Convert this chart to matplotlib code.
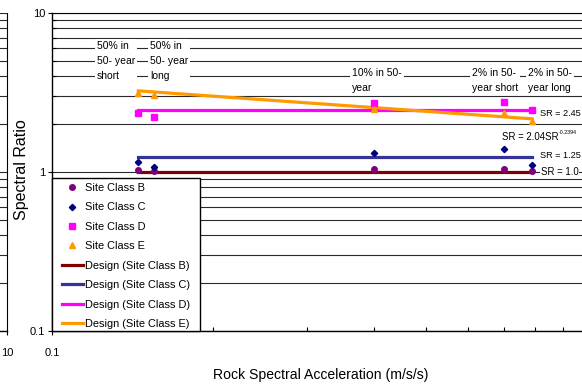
import matplotlib
matplotlib.use("Agg")
import matplotlib.pyplot as plt
from matplotlib.ticker import LogLocator, NullFormatter, FixedLocator
from matplotlib.patches import Rectangle
import numpy as np

plt.rcParams['font.family'] = ['Liberation Sans', 'DejaVu Sans']

# rock spectral acceleration for each hazard level
rock_sa = [0.145, 0.155, 0.40, 0.70, 0.79]
hazard_labels = ["50% in\n50- year\nshort", "50% in\n50- year\nlong",
                 "10% in 50-\nyear", "2% in 50-\nyear short", "2% in 50-\nyear long"]

# computed spectral ratios per site class
sr_b = [1.03, 1.01, 1.045, 1.045, 1.02]
sr_c = [1.155, 1.075, 1.32, 1.395, 1.10]
sr_d = [2.35, 2.22, 2.72, 2.76, 2.47]
sr_e = [3.14, 3.05, 2.49, 2.35, 2.09]

# design values
design_b = 1.0
design_c = 1.25
design_d = 2.45
design_e_coef = 2.04
design_e_exp = -0.2394

fig = plt.figure(figsize=(5.82, 3.85), dpi=100)

W, H = 582.0, 385.0
ax = fig.add_axes([52 / W, 1 - 331 / H, 535 / W, 318 / H])
# neighbouring panel, only its right edge is visible
ax0 = fig.add_axes([(7 - 535) / W, 1 - 331 / H, 535 / W, 318 / H])

for a in (ax, ax0):
    a.set_xscale('log')
    a.set_yscale('log')
    a.set_ylim(0.1, 10)
    a.yaxis.set_major_locator(FixedLocator([0.1, 1, 10]))
    a.yaxis.set_minor_locator(LogLocator(base=10, subs=np.arange(2, 10)))
    a.yaxis.set_minor_formatter(NullFormatter())
    a.xaxis.set_minor_formatter(NullFormatter())
    a.grid(True, which='both', axis='y', color='#2a2a2a', lw=0.8)
    a.set_axisbelow(True)
    a.tick_params(which='major', direction='out', length=3, width=0.8,
                  labelsize=8, pad=2)
    a.tick_params(which='minor', direction='in', length=3, width=0.8)
    for s in ('top', 'right'):
        a.spines[s].set_visible(False)
    for s in ('left', 'bottom'):
        a.spines[s].set_linewidth(1.0)

ax0.set_xlim(0.1, 10)
ax0.xaxis.set_major_locator(FixedLocator([10]))
ax0.xaxis.set_major_formatter(plt.FixedFormatter(['10']))
ax0.spines['left'].set_visible(False)
ax0.spines['right'].set_visible(True)
ax0.yaxis.set_major_formatter(NullFormatter())
ax0.tick_params(axis='y', which='both', length=0)
ax0.tick_params(axis='x', pad=9)

ax.set_xlim(0.1, 1.0)
ax.xaxis.set_major_locator(FixedLocator([0.1]))
ax.xaxis.set_minor_locator(LogLocator(base=10, subs=np.arange(2, 10)))
ax.xaxis.set_major_formatter(plt.FixedFormatter(['0.1']))
ax.tick_params(axis='x', pad=9)
ax.yaxis.set_major_formatter(plt.FixedFormatter(['0.1', '1', '10']))
ax.tick_params(axis='y', pad=2)
ax.spines['top'].set_visible(True)

# design curves across the hazard range
x0, x1 = rock_sa[0], rock_sa[-1]
ax.plot([x0, x1], [design_b, design_b], color='#800000', lw=2.3, zorder=3,
        label='Design (Site Class B)')
ax.plot([x0, x1], [design_c, design_c], color='#333399', lw=2.3, zorder=3,
        label='Design (Site Class C)')
ax.plot([x0, x1], [design_d, design_d], color='#FF00FF', lw=2.3, zorder=3,
        label='Design (Site Class D)')
xe = np.array(rock_sa)
ax.plot(xe, design_e_coef * xe ** design_e_exp, color='#FF9900', lw=2.3,
        zorder=3, label='Design (Site Class E)')

ax.plot(rock_sa, sr_b, 'o', color='#800080', ms=4, zorder=4, label='Site Class B')
ax.plot(rock_sa, sr_c, 'D', color='#000080', ms=3.2, zorder=4, label='Site Class C')
ax.plot(rock_sa, sr_d, 's', color='#FF00FF', ms=4, zorder=4, label='Site Class D')
ax.plot(rock_sa, sr_e, '^', color='#FF9900', ms=4, zorder=4, label='Site Class E')

# legend box drawn separately so the padding can differ per side
frame = Rectangle((52 / W, 1 - 331 / H), 148 / W, 153 / H, transform=fig.transFigure,
                  facecolor='white', edgecolor='black', lw=1.0, zorder=5, clip_on=False)
ax.add_patch(frame)

handles, labels = ax.get_legend_handles_labels()
order = [4, 5, 6, 7, 0, 1, 2, 3]
leg = ax.legend([handles[i] for i in order], [labels[i] for i in order],
                loc='upper left', bbox_to_anchor=(62 / W, 1 - 183 / H),
                bbox_transform=fig.transFigure, borderaxespad=0, borderpad=0,
                fontsize=7.9, frameon=False, handlelength=1.9, handletextpad=0.2,
                labelspacing=0.86, numpoints=1)
leg.set_zorder(6)

# hazard level labels
box = dict(facecolor='white', edgecolor='none', pad=1.5)
label_pos = [(97, 41), (150, 41), (352, 68), (472, 68), (528, 68)]
for (px, py), txt in zip(label_pos, hazard_labels):
    ax.text(px / W, 1 - py / H, txt, transform=fig.transFigure, fontsize=7.5,
            va='top', ha='left', linespacing=1.6, bbox=box, zorder=5)

# design equations
ax.text(540 / W, 1 - 113 / H, 'SR = 2.45', transform=fig.transFigure,
        fontsize=6.6, va='center', ha='left')
eq = ax.text(502 / W, 1 - 137 / H, 'SR = 2.04SR', transform=fig.transFigure,
             fontsize=6.9, va='center', ha='left')
ax.annotate('-0.2394', xy=(1.0, 0.68), xycoords=eq, fontsize=3.8,
            va='bottom', ha='left')
ax.text(540 / W, 1 - 156 / H, 'SR = 1.25', transform=fig.transFigure,
        fontsize=6.6, va='center', ha='left')
ax.text(541 / W, 1 - 172 / H, 'SR = 1.0', transform=fig.transFigure,
        fontsize=6.9, va='center', ha='left',
        bbox=dict(facecolor='white', edgecolor='none', pad=0.5))

fig.text(22 / W, 1 - 170 / H, 'Spectral Ratio', rotation=90, fontsize=11.5,
         ha='center', va='center')
fig.text(321 / W, 1 - 375 / H, 'Rock Spectral Acceleration (m/s/s)',
         fontsize=10.1, ha='center', va='center')

fig.savefig('out.png', dpi=100)
